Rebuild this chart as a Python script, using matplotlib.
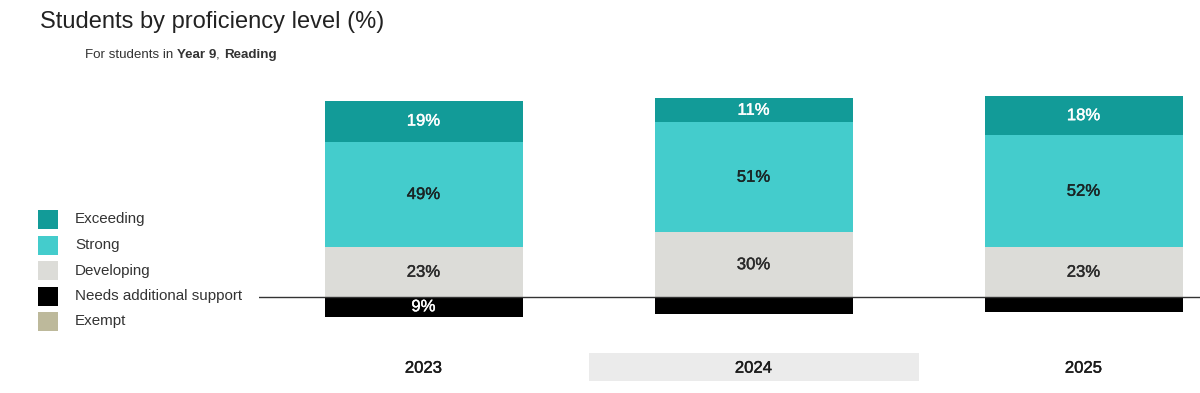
import matplotlib
matplotlib.use('Agg')
import matplotlib.pyplot as plt
import matplotlib.patheffects as pe
from matplotlib.patches import Rectangle

plt.rcParams['font.family'] = ['Liberation Sans', 'DejaVu Sans']

# data
years = ['2023', '2024', '2025']
exceeding = [19, 11, 18]
strong = [49, 51, 52]
developing = [23, 30, 23]
needs_support = [9, 8, 7]
exempt = [0, 0, 0]

levels = ['Exceeding', 'Strong', 'Developing', 'Needs additional support', 'Exempt']
colors = ['#129b98', '#44cccc', '#dcdcd8', '#000000', '#bdb99b']
text_colors = ['white', '#1a2424', '#2a2a2a', 'white', '#1a1a1a']
highlight_year = '2024'


def semi_bold(col):
    # thin outline in the text colour, makes regular text look medium weight
    return [pe.withStroke(linewidth=0.3, foreground=col)]


W, H = 1200, 393
fig = plt.figure(figsize=(W / 100, H / 100), dpi=100)

# axes: left edge at the start of the baseline, runs off the right side
ax_top, ax_bot = 80, 393
ax = fig.add_axes([258.5 / W, 1 - ax_bot / H, 1 - 258.5 / W, (ax_bot - ax_top) / H])
ax.set_xlim(-0.5, 2.353)
ax.set_ylim(-44.4, 100.5)
ax.axis('off')

x = list(range(len(years)))
width = 0.6
lab_size = 12

# positive stack: developing, strong, exceeding from the baseline up
bottom = [0] * len(years)
for vals, col, tc in [(developing, colors[2], text_colors[2]),
                      (strong, colors[1], text_colors[1]),
                      (exceeding, colors[0], text_colors[0])]:
    ax.bar(x, vals, width, bottom=bottom, color=col, edgecolor='none')
    for i, v in enumerate(vals):
        ax.text(x[i], bottom[i] + v / 2, f'{v}%', ha='center', va='center',
                fontsize=lab_size, color=tc, path_effects=semi_bold(tc))
    bottom = [b + v for b, v in zip(bottom, vals)]

# negative side: needs additional support, then exempt
neg = [-v for v in needs_support]
ax.bar(x, neg, width, color=colors[3], edgecolor='none')
for i, v in enumerate(needs_support):
    if v >= 9:
        ax.text(x[i], -v / 2, f'{v}%', ha='center', va='center', fontsize=lab_size,
                color=text_colors[3], path_effects=semi_bold(text_colors[3]))
ax.bar(x, [-v for v in exempt], width, bottom=neg, color=colors[4], edgecolor='none')

ax.axhline(0, color='#333333', lw=1, zorder=5)

# category labels, highlighted year gets a grey band
for i, yr in enumerate(years):
    if yr == highlight_year:
        ax.add_patch(Rectangle((i - 0.5, -38.9), 1, 13, facecolor='#ebebeb',
                               edgecolor='none', zorder=0))
    ax.text(i, -32.9, yr, ha='center', va='center', fontsize=12, color='#1a1a1a',
            path_effects=semi_bold('#1a1a1a'))

# legend drawn by hand (pixel positions)
row0, row_gap, sq = 219.5, 25.5, 19
for k, (name, col) in enumerate(zip(levels, colors)):
    yc = row0 + k * row_gap
    fig.add_artist(Rectangle((38 / W, 1 - (yc + sq / 2) / H), 20 / W, sq / H,
                             transform=fig.transFigure, facecolor=col, edgecolor='none'))
    fig.text(75 / W, 1 - yc / H, name, fontsize=10.9, color='#333333',
             va='center', ha='left')

# title and subtitle
fig.text(40 / W, 1 - 22 / H, 'Students by proficiency level (%)', fontsize=17,
         color='#222222', va='center', ha='left')

renderer = fig.canvas.get_renderer()
xpos = 85
for txt, wt in [('For students in ', 'normal'), ('Year 9', 'bold'),
                (', ', 'normal'), ('Reading', 'bold')]:
    t = fig.text(xpos / W, 1 - 55 / H, txt, fontsize=9.6, fontweight=wt,
                 color='#333333', va='center', ha='left')
    xpos += t.get_window_extent(renderer).width

fig.savefig('out.png', dpi=100)
